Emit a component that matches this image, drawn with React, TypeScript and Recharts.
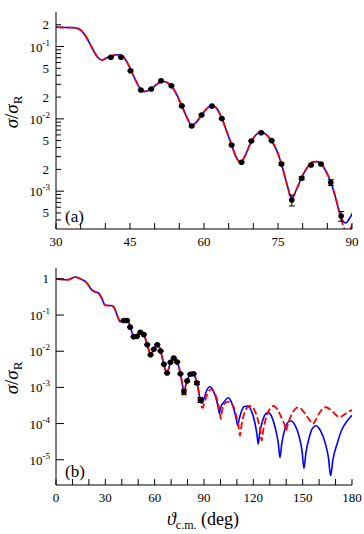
import React from 'react';
import { ComposedChart, Line, Scatter, XAxis, YAxis, ErrorBar } from 'recharts';

const FONT = 'Liberation Serif, Times New Roman, DejaVu Serif, serif';

// Shared part of both model curves (angle in deg, sigma/sigma_R)
const sharedDeg = [0, 2, 4, 6, 8, 10, 11.6, 13, 14.5, 16.6, 18, 19.5, 21, 22.5, 24, 25.7, 27, 28, 29,
  30, 31, 32, 33, 34, 35, 36, 37, 38, 38.5, 39, 39.5, 40, 41, 42, 42.8, 43.5, 44, 45, 46, 47, 47.7,
  48.5, 49.3, 50, 51, 51.8, 52.5, 53.4, 54.5, 55.5, 56.5, 57.5, 58.3, 59.5, 60.5, 61.5, 62.3, 63.6,
  64.5, 65.6, 66.5, 67.4, 68.3, 69.6, 70.5, 71.6, 72.5, 73.7, 74.7, 75.7, 76.8, 77.8, 78.7, 79.8,
  81, 82, 82.8, 83.7, 84.7, 85.7, 86.7, 87.6];
const sharedVal = [1.01, 0.99, 0.962, 0.95, 0.96, 1.06, 1.127, 1.09, 1.02, 0.914, 0.83, 0.7, 0.54, 0.47,
  0.434, 0.407, 0.34, 0.28, 0.215,
  0.186, 0.184, 0.183, 0.183, 0.18, 0.169, 0.14, 0.105, 0.0788, 0.0705, 0.0661, 0.0655, 0.0683, 0.0732,
  0.0763, 0.0768, 0.0739, 0.0672, 0.0505, 0.0356, 0.0267, 0.0239, 0.0243, 0.0259, 0.0284, 0.0318,
  0.0328, 0.0318, 0.0284, 0.0214, 0.01505, 0.0106, 0.00809, 0.00876, 0.0113, 0.01368, 0.01529,
  0.01458, 0.01027, 0.00701, 0.00435, 0.00297, 0.00249, 0.00306, 0.00486, 0.00598, 0.00658, 0.00617,
  0.00494, 0.00371, 0.00237, 0.001257, 0.000792, 0.001038, 0.001545, 0.002158, 0.00253, 0.00257,
  0.00241, 0.0019, 0.001339, 0.000804, 0.000468];

// Blue (solid) curve beyond 88 deg
const blueTailDeg = [88.3, 88.8, 89.4, 90, 91.5, 93.6, 95.5, 97.3, 98.6, 99.3, 100.2, 102.2, 104.8, 106.8,
  108.7, 109.8, 110.5, 111.3, 112.8, 114.5, 116.6, 118.8, 120.8, 122.2, 123, 123.9, 125.6, 127.2, 129.1,
  131.3, 133.5, 135.2, 136.2, 137.3, 139.2, 140.9, 142.9, 145.4, 147.8, 149.6, 150.8, 152, 154.2, 156,
  158.1, 160.9, 163.8, 165.7, 167, 168.4, 171, 174, 177, 179.2, 180];
const blueTailVal = [0.000375, 0.000363, 0.000412, 0.000483, 7.94e-4, 1.045e-3, 8.32e-4, 5.01e-4, 2.82e-4,
  1.92e-4, 2.82e-4, 3.98e-4, 5.19e-4, 3.8e-4, 2.0e-4, 1.2e-4, 8.73e-5, 1.26e-4, 2.19e-4, 2.95e-4, 3.06e-4,
  2.24e-4, 1.12e-4, 5.01e-5, 2.72e-5, 5.62e-5, 1.17e-4, 1.78e-4, 2.0e-4, 1.51e-4, 7.08e-5, 2.82e-5, 1.14e-5,
  2.82e-5, 7.08e-5, 1.07e-4, 1.18e-4, 8.91e-5, 4.47e-5, 1.78e-5, 5.8e-6, 1.58e-5, 4.47e-5, 7.41e-5, 8.73e-5,
  6.31e-5, 2.82e-5, 1.12e-5, 3.62e-6, 1.0e-5, 2.82e-5, 7.08e-5, 1.17e-4, 1.55e-4, 1.7e-4];

// Red (dashed) curve beyond 88 deg
const redTailDeg = [88.3, 88.8, 89.4, 90, 91.5, 93, 94.6, 96.5, 98.3, 99.5, 100.2, 101, 102.5, 104, 105.8,
  107.8, 109.7, 111.1, 111.9, 112.8, 114.5, 116.3, 118.4, 120.6, 122.8, 124.3, 125.1, 126, 128, 130, 132.2,
  134.8, 137.5, 139.1, 139.9, 140.8, 142.8, 145, 147.3, 150, 152.8, 155, 156.1, 157.3, 160, 162, 164, 167,
  170, 172.3, 174.5, 177, 179.2, 180];
const redTailVal = [0.00032, 0.000273, 0.000281, 0.00034, 5.62e-4, 7.94e-4, 8.85e-4, 7.08e-4, 3.98e-4,
  2.24e-4, 1.34e-4, 2.24e-4, 3.55e-4, 3.98e-4, 4.03e-4, 3.02e-4, 1.58e-4, 7.94e-5, 4.62e-5, 8.91e-5,
  1.91e-4, 2.75e-4, 3.06e-4, 2.4e-4, 1.26e-4, 6.31e-5, 3.36e-5, 6.31e-5, 1.58e-4, 2.51e-4, 3.06e-4,
  2.4e-4, 1.32e-4, 8.91e-5, 6.35e-5, 8.91e-5, 1.58e-4, 2.4e-4, 2.82e-4, 2.29e-4, 1.51e-4, 1.12e-4,
  9.73e-5, 1.12e-4, 1.91e-4, 2.51e-4, 2.82e-4, 2.4e-4, 1.78e-4, 1.49e-4, 1.66e-4, 2.0e-4, 2.27e-4, 2.34e-4];

// Experimental data
const dataDeg = [41.1, 43.2, 45.1, 47.2, 49.3, 51.3, 53.4, 55.5, 57.5, 59.5, 61.6, 63.6, 65.6, 67.6, 69.6,
  71.6, 73.7, 75.7, 77.8, 79.8, 81.7, 83.7, 85.7, 87.8];
const dataVal = [0.071, 0.071, 0.0463, 0.025, 0.0258, 0.0336, 0.0287, 0.0151, 0.00796, 0.0113, 0.015,
  0.0101, 0.00435, 0.00251, 0.00493, 0.00643, 0.005, 0.00238, 0.000755, 0.00151, 0.0023, 0.00238,
  0.00132, 0.000454];
const dataErr = [0.0015, 0.0015, 0.001, 0.0005, 0.0005, 0.0007, 0.0006, 0.0003, 0.0002, 0.00025, 0.0003,
  0.0002, 0.0001, 0.00006, 0.0001, 0.00013, 0.0001, 0.00008, 0.00013, 0.00007, 0.00006, 0.00006,
  0.00012, 0.00007];

// Axis ticks
const topXTicks = [30, 35, 40, 45, 50, 55, 60, 65, 70, 75, 80, 85, 90];
const topXLabels = [30, 45, 60, 75, 90];
const botXTicks = [0, 10, 20, 30, 40, 50, 60, 70, 80, 90, 100, 110, 120, 130, 140, 150, 160, 170, 180];
const botXLabels = [0, 30, 60, 90, 120, 150, 180];
const topYTicks = [0.0004, 0.0005, 0.0006, 0.0007, 0.0008, 0.0009, 0.001, 0.002, 0.003, 0.004, 0.005,
  0.006, 0.007, 0.008, 0.009, 0.01, 0.02, 0.03, 0.04, 0.05, 0.06, 0.07, 0.08, 0.09, 0.1, 0.2];
const botYTicks = [0.00001, 0.0001, 0.001, 0.01, 0.1, 1];

const zip = (d: number[], v: number[]) => d.map((deg, i) => ({ deg, v: v[i] }));
const blueCurve = zip([...sharedDeg, ...blueTailDeg], [...sharedVal, ...blueTailVal]);
const redCurve = zip([...sharedDeg, ...redTailDeg], [...sharedVal, ...redTailVal]);
const points = dataDeg.map((deg, i) => ({ deg, v: dataVal[i], err: dataErr[i] }));

const txt = { fontFamily: FONT, fill: '#000' };

const makeXTick = (labels: number[], side: 'bottom' | 'top') => (props: any) => {
  const { x, y, payload } = props;
  const val = payload.value;
  const dir = side === 'bottom' ? -1 : 1;
  return (
    <g>
      <line x1={x} x2={x} y1={y} y2={y + dir * 6} stroke="#000" strokeWidth={1} />
      {side === 'bottom' && labels.includes(val) ? (
        <text x={x} y={y + 17} textAnchor="middle" style={{ ...txt, fontSize: 13 }}>{val}</text>
      ) : null}
    </g>
  );
};

const makeYTick = (side: 'left' | 'right') => (props: any) => {
  const { x, y, payload } = props;
  const v = payload.value;
  const e = Math.floor(Math.log10(v) + 1e-9);
  const m = Math.round(v / Math.pow(10, e));
  const major = m === 1;
  const len = major ? 8 : 5;
  const dir = side === 'left' ? 1 : -1;
  let label: any = null;
  if (side === 'left') {
    if (major) {
      if (e === 0) {
        label = <text x={x - 7} y={y + 4.5} textAnchor="end" style={{ ...txt, fontSize: 13 }}>1</text>;
      } else {
        label = (
          <text x={x - 6} y={y + 5} textAnchor="end" style={{ ...txt, fontSize: 13 }}>
            <tspan>10</tspan>
            <tspan dy={-6} style={{ fontSize: 9 }}>{e}</tspan>
          </text>
        );
      }
    } else if (m === 2 || m === 5) {
      label = <text x={x - 7} y={y + 4.5} textAnchor="end" style={{ ...txt, fontSize: 13 }}>{m}</text>;
    }
  }
  return (
    <g>
      <line x1={x} x2={x + dir * len} y1={y} y2={y} stroke="#000" strokeWidth={1} />
      {label}
    </g>
  );
};

const dotShape = (props: any) => <circle cx={props.cx} cy={props.cy} r={2.8} fill="#000" />;

function Panel(props: { xDomain: [number, number]; yDomain: [number, number]; xTicks: number[]; xLabels: number[]; yTicks: number[] }) {
  const { xDomain, yDomain, xTicks, xLabels, yTicks } = props;
  const axisLine = { stroke: '#000', strokeWidth: 1 };
  return (
    <ComposedChart width={364} height={260} margin={{ top: 12, right: 12, bottom: 0, left: 0 }}>
      <XAxis type="number" dataKey="deg" domain={xDomain} allowDataOverflow ticks={xTicks} interval={0}
        tick={makeXTick(xLabels, 'bottom')} tickLine={false} tickSize={0} tickMargin={0} height={31} axisLine={axisLine} />
      <XAxis xAxisId="top" orientation="top" type="number" dataKey="deg" domain={xDomain} allowDataOverflow ticks={xTicks}
        interval={0} tick={makeXTick(xLabels, 'top')} tickLine={false} tickSize={0} tickMargin={0} height={0} axisLine={axisLine} />
      <YAxis type="number" dataKey="v" scale="log" domain={yDomain} allowDataOverflow ticks={yTicks} interval={0}
        tick={makeYTick('left')} tickLine={false} tickSize={0} tickMargin={0} width={56} axisLine={axisLine} />
      <YAxis yAxisId="right" orientation="right" type="number" dataKey="v" scale="log" domain={yDomain} allowDataOverflow
        ticks={yTicks} interval={0} tick={makeYTick('right')} tickLine={false} tickSize={0} tickMargin={0} width={0} axisLine={axisLine} />
      <Line data={blueCurve} dataKey="v" type="monotone" stroke="#0000ff" strokeWidth={1.6} dot={false} activeDot={false} isAnimationActive={false} />
      <Line data={redCurve} dataKey="v" type="monotone" stroke="#ff0000" strokeWidth={1.8} strokeDasharray="7 3" dot={false} activeDot={false} isAnimationActive={false} />
      <Scatter data={points} dataKey="v" fill="#000" shape={dotShape} isAnimationActive={false}>
        <ErrorBar dataKey="err" direction="y" width={3} stroke="#000" strokeWidth={1} isAnimationActive={false} />
      </Scatter>
    </ComposedChart>
  );
}

export default function App() {
  return (
    <div style={{ position: 'absolute', left: 0, top: 0, width: 364, height: 534, background: '#fff' }}>
      <div style={{ position: 'absolute', left: 0, top: 0 }}>
        <Panel xDomain={[30, 90]} yDomain={[3e-4, 0.3]} xTicks={topXTicks} xLabels={topXLabels} yTicks={topYTicks} />
      </div>
      <div style={{ position: 'absolute', left: 0, top: 256 }}>
        <Panel xDomain={[0, 180]} yDomain={[2e-6, 2]} xTicks={botXTicks} xLabels={botXLabels} yTicks={botYTicks} />
      </div>
      <svg width={364} height={534} style={{ position: 'absolute', left: 0, top: 0, pointerEvents: 'none' }}>
        <text x={65} y={222} style={{ ...txt, fontSize: 17 }}>(a)</text>
        <text x={65} y={477} style={{ ...txt, fontSize: 17 }}>(b)</text>
        <text transform="translate(18,112) rotate(-90)" textAnchor="middle" style={{ ...txt, fontSize: 19 }}>
          <tspan style={{ fontStyle: 'italic' }}>σ</tspan><tspan>/</tspan><tspan style={{ fontStyle: 'italic' }}>σ</tspan>
          <tspan dy={4} style={{ fontSize: 13 }}>R</tspan>
        </text>
        <text transform="translate(18,378) rotate(-90)" textAnchor="middle" style={{ ...txt, fontSize: 19 }}>
          <tspan style={{ fontStyle: 'italic' }}>σ</tspan><tspan>/</tspan><tspan style={{ fontStyle: 'italic' }}>σ</tspan>
          <tspan dy={4} style={{ fontSize: 13 }}>R</tspan>
        </text>
        <text x={203} y={525} textAnchor="middle" style={{ ...txt, fontSize: 18 }}>
          <tspan style={{ fontStyle: 'italic' }}>ϑ</tspan>
          <tspan dy={4} style={{ fontSize: 12 }}>c.m.</tspan>
          <tspan dy={-4}> (deg)</tspan>
        </text>
      </svg>
    </div>
  );
}
